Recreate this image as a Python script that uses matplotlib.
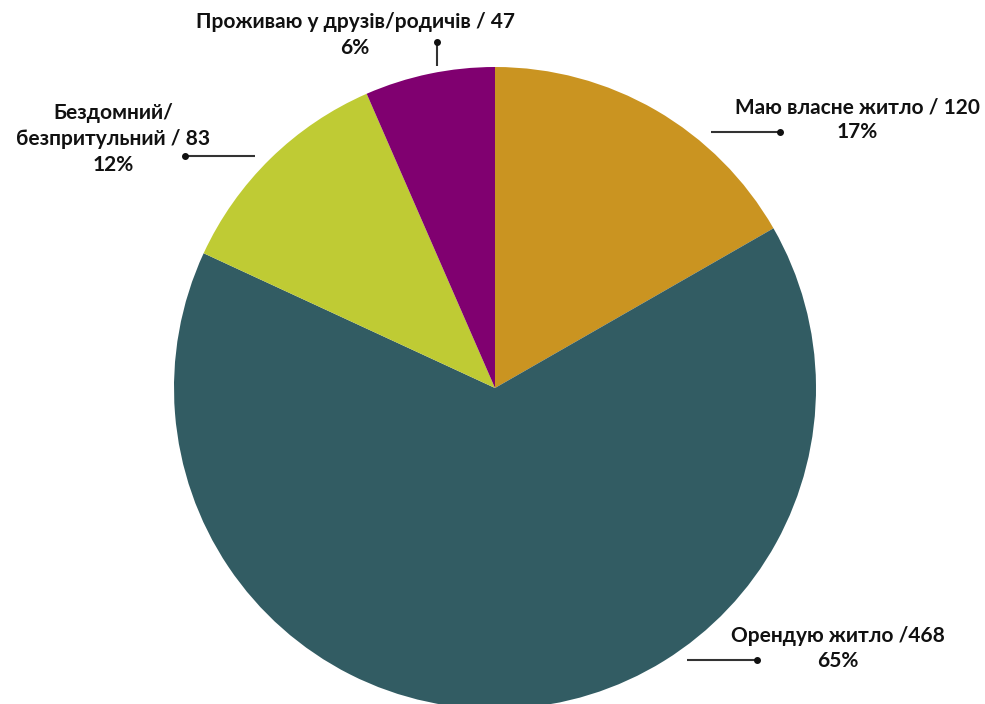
import matplotlib
matplotlib.use("Agg")
import matplotlib.pyplot as plt

labels = ["Маю власне житло / 120", "Орендую житло /468", "Бездомний/\nбезпритульний / 83", "Проживаю у друзів/родичів / 47"]
values = [120, 468, 83, 47]
percents = ["17%", "65%", "12%", "6%"]
colors = ["#CA9421", "#325C63", "#BFCB34", "#800070"]

W, H = 985, 704
fig = plt.figure(figsize=(W / 100, H / 100), dpi=100)
ax = fig.add_axes([0, 0, 1, 1])

cx, cy, r = 495, H - 388, 321
ax.pie(values, colors=colors, startangle=90, counterclock=False,
       center=(cx, cy), radius=r, wedgeprops=dict(linewidth=0))
ax.set_xlim(0, W)
ax.set_ylim(0, H)
ax.set_aspect("equal")
ax.axis("off")

font = dict(family=["Lato", "DejaVu Sans"], fontweight="bold", fontsize=15, color="#111111")

# label anchor in pixel coords: (x center, baseline of first line, line step)
label_pos = [(857, 113, 25), (838, 642, 25), (113, 119, 26), (355, 28, 26)]
for lab, pct, (x, y, step) in zip(labels, percents, label_pos):
    lines = lab.split("\n") + [pct]
    for i, line in enumerate(lines):
        ax.text(x, H - (y + i * step), line, ha="center", va="baseline", **font)

# leader lines: start point, dot end point (pixel coords)
leaders = [
    ((711, 132), (780, 132)),
    ((687, 660), (757, 660)),
    ((255, 156), (185, 156)),
    ((437, 66), (437, 42)),
]
for (x0, y0), (x1, y1) in leaders:
    ax.plot([x0, x1], [H - y0, H - y1], color="#333333", lw=1.5, solid_capstyle="butt")
    ax.plot([x1], [H - y1], "o", color="#111111", ms=4)

fig.savefig("out.png", dpi=100)
